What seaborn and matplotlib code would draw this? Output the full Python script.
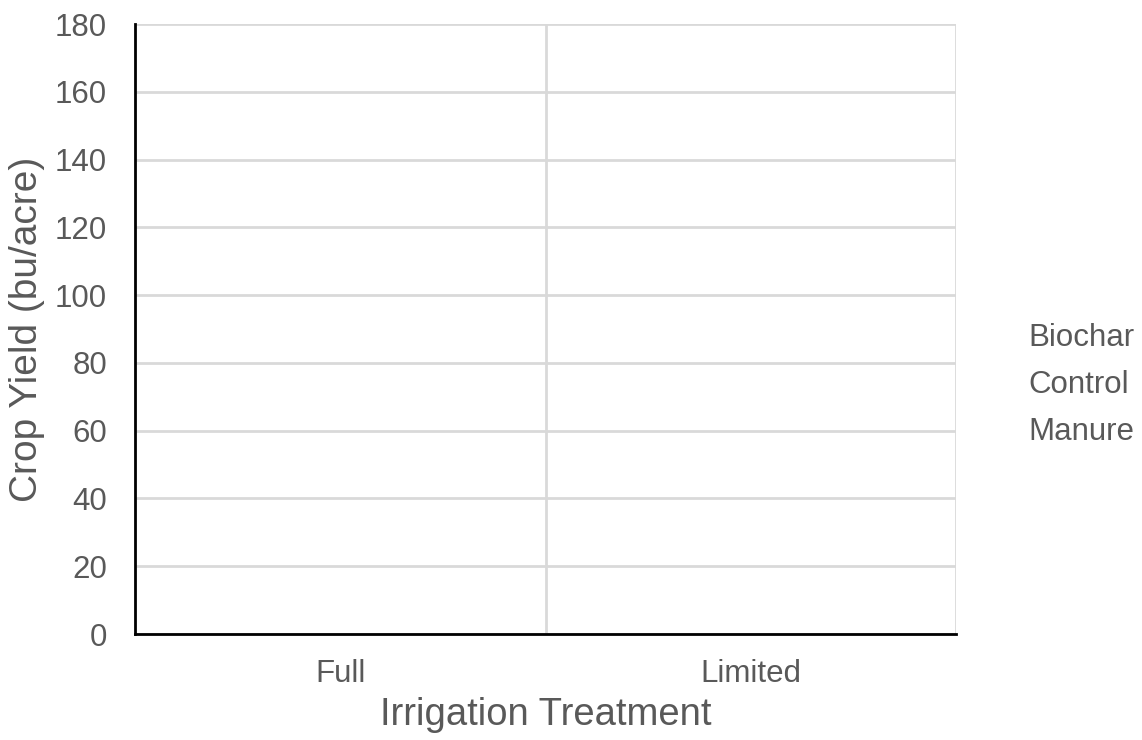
import numpy as np
import pandas as pd
import matplotlib
matplotlib.use("Agg")
import matplotlib.pyplot as plt
from matplotlib.lines import Line2D
import seaborn as sns

# Crop yield by irrigation treatment and soil amendment (no yields recorded yet)
irrigation = ["Full", "Limited"]
treatments = ["Biochar", "Control", "Manure"]
yield_full = [np.nan, np.nan, np.nan]
yield_limited = [np.nan, np.nan, np.nan]
y_ticks = [0, 20, 40, 60, 80, 100, 120, 140, 160, 180]

df = pd.DataFrame({
    "Irrigation": [irrigation[0]] * 3 + [irrigation[1]] * 3,
    "Treatment": treatments * 2,
    "Yield": yield_full + yield_limited,
})

sns.set_theme(style="white")
plt.rcParams["font.family"] = ["Liberation Sans", "DejaVu Sans"]

TEXT = "#595959"
GRID = "#d9d9d9"

fig = plt.figure(figsize=(11.42, 7.40), dpi=100)
ax = fig.add_axes([135 / 1142, 1 - 634 / 740, (956 - 135) / 1142, (634 - 24) / 740])

palette = dict(zip(treatments, ["#4472c4", "#ed7d31", "#a5a5a5"]))
plot_df = df.dropna(subset=["Yield"])
if len(plot_df):
    sns.barplot(data=plot_df, x="Irrigation", y="Yield", hue="Treatment",
                order=irrigation, hue_order=treatments, palette=palette,
                errorbar=None, legend=False, ax=ax)

ax.set_xlim(-0.5, len(irrigation) - 0.5)
ax.set_xticks(range(len(irrigation)))
ax.set_xticklabels(irrigation)
ax.set_xticks([i + 0.5 for i in range(len(irrigation))], minor=True)
ax.set_ylim(0, 180)
ax.set_yticks(y_ticks)

ax.grid(False)
ax.grid(axis="y", which="major", color=GRID, linewidth=2)
ax.grid(axis="x", which="minor", color=GRID, linewidth=2)
ax.set_axisbelow(True)

for side in ["top", "right"]:
    ax.spines[side].set_visible(False)
for side in ["left", "bottom"]:
    ax.spines[side].set_color("black")
    ax.spines[side].set_linewidth(2)
    ax.spines[side].set_zorder(3)

ax.tick_params(axis="both", which="both", length=0, labelsize=22.5, colors=TEXT)
ax.tick_params(axis="y", pad=20)
ax.tick_params(axis="x", pad=18)

ax.set_xlabel("Irrigation Treatment", fontsize=27.5, color=TEXT, labelpad=6)
ax.set_ylabel("Crop Yield (bu/acre)", fontsize=28, color=TEXT, labelpad=7)

handles = [Line2D([], [], linestyle="none") for _ in treatments]
leg = fig.legend(handles, treatments, loc="center left",
                 bbox_to_anchor=(1016 / 1142, 1 - 385 / 740),
                 frameon=False, fontsize=22.5, handlelength=0, handletextpad=0,
                 labelspacing=0.55, borderaxespad=0)
for t in leg.get_texts():
    t.set_color(TEXT)

fig.savefig("out.png", dpi=100)
